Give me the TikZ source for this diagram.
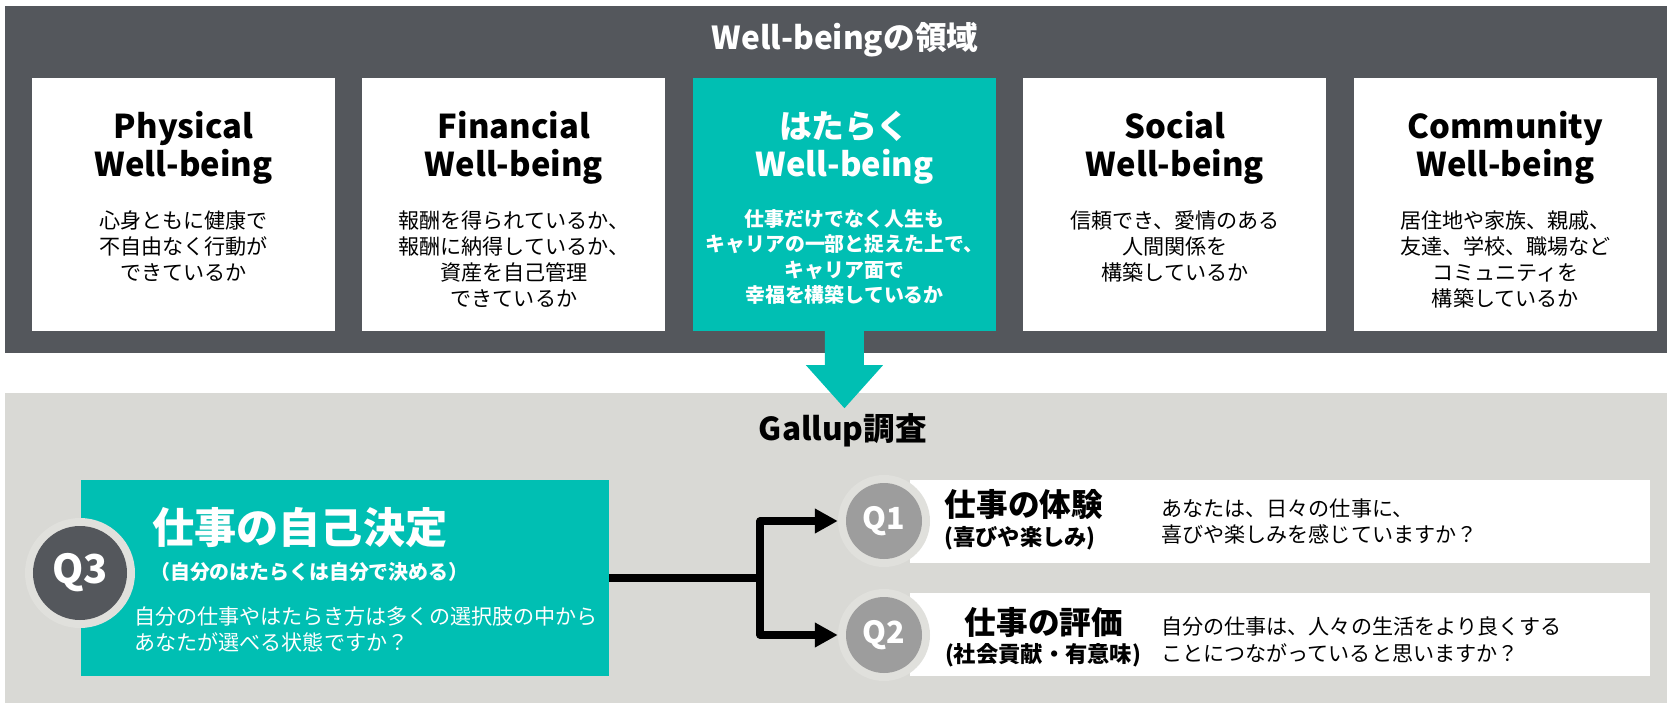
\documentclass[tikz,border=0pt]{standalone}
\usepackage{fontspec}
\setmainfont{Noto Sans CJK JP}
\usetikzlibrary{positioning,arrows.meta}

\definecolor{panelgray}{HTML}{54575C}
\definecolor{wbteal}{HTML}{00BFB3}
\definecolor{bggray}{HTML}{D9D9D5}
\definecolor{ringgray}{HTML}{E0E0DC}
\definecolor{qgray}{HTML}{9D9D9D}

\begin{document}
\begin{tikzpicture}[x=0.03cm,y=-0.03cm,
  pillar/.style={fill=white,minimum width=9.09cm,minimum height=7.59cm,inner sep=0pt},
  pillarhead/.style={font=\bfseries\fontsize{28}{32}\selectfont,align=center,inner sep=0pt},
  pillartext/.style={font=\fontsize{18}{22.2}\selectfont,align=center,inner sep=0pt,anchor=north},
  bandtitle/.style={font=\bfseries\fontsize{27}{29}\selectfont,inner sep=0pt},
  qbox/.style={fill=white,minimum width=22.2cm,minimum height=2.49cm,inner sep=0pt},
  qring/.style={circle,fill=ringgray,minimum size=2.76cm,inner sep=0pt},
  qdot/.style={circle,fill=qgray,minimum size=2.28cm,inner sep=0pt,text=white,font=\bfseries\fontsize{26}{26}\selectfont},
  qhead/.style={font=\bfseries\fontsize{27}{29}\selectfont,inner sep=0pt},
  qsub/.style={font=\bfseries\fontsize{19}{21}\selectfont,inner sep=0pt},
  qtext/.style={font=\fontsize{18}{23}\selectfont,align=left,inner sep=0pt,anchor=west},
  link/.style={line width=6pt,line join=round}]
  \useasboundingbox (0,0) rectangle (1667,703);

  % Well-being panel
  \fill[panelgray] (5,6) rectangle (1667,353);
  \node[bandtitle,text=white] (wbtitle) at (845,40) {Well-beingの領域};

  \node[pillar] (p1) at (183.5,204.5) {};
  \node[pillar,right=0.81cm of p1] (p2) {};
  \node[pillar,right=0.81cm of p2,fill=wbteal] (p3) {};
  \node[pillar,right=0.81cm of p3] (p4) {};
  \node[pillar,right=0.81cm of p4] (p5) {};

  \node[pillarhead] (h1) at ([yshift=-2.1cm]p1.north) {Physical\\Well-being};
  \node[pillarhead] (h2) at ([yshift=-2.1cm]p2.north) {Financial\\Well-being};
  \node[pillarhead,text=white] (h3) at ([yshift=-2.1cm]p3.north) {はたらく\\Well-being};
  \node[pillarhead] (h4) at ([yshift=-2.1cm]p4.north) {Social\\Well-being};
  \node[pillarhead] (h5) at ([yshift=-2.1cm]p5.north) {Community\\Well-being};

  \node[pillartext] (t1) at ([yshift=-3.99cm]p1.north) {心身ともに健康で\\不自由なく行動が\\できているか};
  \node[pillartext] (t2) at ([yshift=-3.99cm]p2.north) {報酬を得られているか、\\報酬に納得しているか、\\資産を自己管理\\できているか};
  \node[pillartext,text=white,font=\bfseries\fontsize{17}{21.8}\selectfont] (t3) at ([yshift=-3.93cm]p3.north) {仕事だけでなく人生も\\キャリアの一部と捉えた上で、\\キャリア面で\\幸福を構築しているか};
  \node[pillartext] (t4) at ([yshift=-3.99cm]p4.north) {信頼でき、愛情のある\\人間関係を\\構築しているか};
  \node[pillartext] (t5) at ([yshift=-3.99cm]p5.north) {居住地や家族、親戚、\\友達、学校、職場など\\コミュニティを\\構築しているか};

  % Gallup panel
  \fill[bggray] (5,393) rectangle (1667,703);
  \fill[wbteal] (p3.south) ++(-19.5,0) -- ++(0,34) -- ++(-19,0) -- ++(38.5,43)
    -- ++(38.5,-43) -- ++(-19,0) -- ++(0,-34) -- cycle;
  \node[bandtitle] (gallup) at (843,430) {Gallup調査};

  % Q3
  \node[fill=wbteal,minimum width=15.84cm,minimum height=5.88cm,inner sep=0pt] (q3) at (345,578) {};
  \node[qring,minimum size=3.3cm] (r3) at (80,573) {};
  \node[qdot,fill=panelgray,minimum size=2.82cm,font=\bfseries\fontsize{34}{34}\selectfont] (d3) at (r3) {Q3};
  \node[anchor=west,text=white,font=\bfseries\fontsize{36}{38}\selectfont,inner sep=0pt] (q3head) at (152,528) {仕事の自己決定};
  \node[anchor=west,text=white,font=\bfseries\fontsize{17}{19}\selectfont,inner sep=0pt] (q3sub) at (150,572) {（自分のはたらくは自分で決める）};
  \node[qtext,text=white,font=\fontsize{18}{21.5}\selectfont] (q3text) at (134,629.5) {自分の仕事やはたらき方は多くの選択肢の中から\\あなたが選べる状態ですか？};

  % Q1, Q2
  \node[qbox] (q1) at (1280,521.5) {};
  \node[qbox] (q2) at (1280,634.5) {};
  \node[qring] (r1) at (884,521) {};
  \node[qring] (r2) at (884,635) {};
  \node[qdot] (d1) at (r1) {Q1};
  \node[qdot] (d2) at (r2) {Q2};

  \node[qhead] (q1head) at (1024,505) {仕事の体験};
  \node[qsub] (q1sub) at (1020,538) {(喜びや楽しみ)};
  \node[qtext] (q1text) at (1161,521.5) {あなたは、日々の仕事に、\\喜びや楽しみを感じていますか？};

  \node[qhead] (q2head) at (1044,623) {仕事の評価};
  \node[qsub] (q2sub) at (1043,655) {(社会貢献・有意味)};
  \node[qtext] (q2text) at (1161,639.5) {自分の仕事は、人々の生活をより良くする\\ことにつながっていると思いますか？};

  % connectors
  \coordinate (fork) at (760,578);
  \draw[link] (q3.east) -- (fork);
  \draw[link,-{Triangle[length=19.6pt,width=20pt]}] (fork) |- (r1.west);
  \draw[link,-{Triangle[length=19.6pt,width=20pt]}] (fork) |- (r2.west);
\end{tikzpicture}
\end{document}
